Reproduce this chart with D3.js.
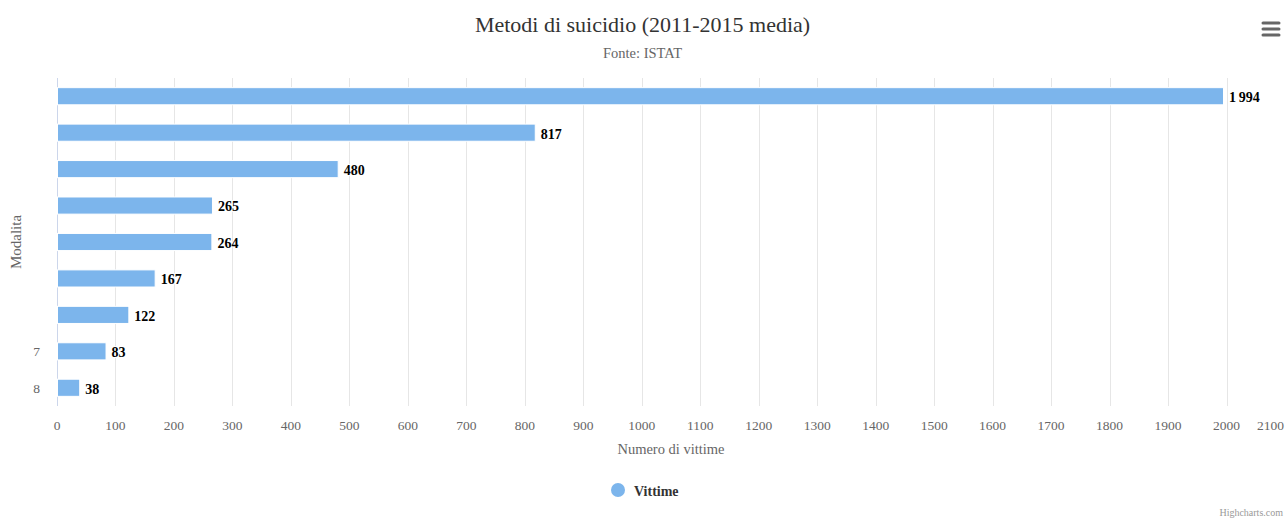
<!DOCTYPE html>
<html><head><meta charset="utf-8">
<script src="https://cdn.jsdelivr.net/npm/d3@7"></script>
<style>body{margin:0;background:#fff}svg{display:block}</style>
</head><body>
<script>
const categories = ["", "", "", "", "", "", "", "7", "8"];
const values = [1994, 817, 480, 265, 264, 167, 122, 83, 38];
const xTicks = [0,100,200,300,400,500,600,700,800,900,1000,1100,1200,1300,1400,1500,1600,1700,1800,1900,2000,2100];
const seriesName = "Vittime";
const chartTitle = "Metodi di suicidio (2011-2015 media)";
const chartSubtitle = "Fonte: ISTAT";
const xTitle = "Numero di vittime";
const yTitle = "Modalita";

(function () {
const W = 1285, H = 519;
const font = "'Liberation Serif','Times New Roman',serif";
const svg = d3.select("body").append("svg").attr("width", W).attr("height", H).style("font-family", font);

const pL = 57, pR = 1285, pT = 78, pB = 406;
const x = d3.scaleLinear().domain([0, 2100]).range([pL, pR]);
const y = d3.scaleBand().domain(d3.range(values.length)).range([pT, pB]).paddingInner(0.53).paddingOuter(0.265);

// gridlines
svg.append("g").selectAll("line").data(xTicks.filter(t => t > 0 && t < 2100)).join("line")
  .attr("x1", d => Math.round(x(d)) + 0.5).attr("x2", d => Math.round(x(d)) + 0.5)
  .attr("y1", pT).attr("y2", pB).attr("stroke", "#e6e6e6");

// axis line (left)
svg.append("line").attr("x1", pL + 0.5).attr("x2", pL + 0.5).attr("y1", pT).attr("y2", pB).attr("stroke", "#ccd6eb");

// bars
svg.append("g").selectAll("rect").data(values).join("rect")
  .attr("x", x(0) + 0.5).attr("y", (d, i) => y(i))
  .attr("width", d => x(d) - x(0)).attr("height", y.bandwidth())
  .attr("fill", "#7cb5ec").attr("stroke", "#fff").attr("stroke-width", 1);

// data labels
const fmt = v => { const s = String(v); return s.length > 3 ? s.slice(0, s.length - 3) + "\u2009" + s.slice(-3) : s; };
svg.append("g").selectAll("text").data(values).join("text")
  .attr("x", d => x(d) + 6).attr("y", (d, i) => y(i) + y.bandwidth() / 2 + 1)
  .attr("dy", "0.35em").attr("font-size", 14).attr("font-weight", "bold").attr("fill", "#000")
  .attr("stroke", "#fff").attr("stroke-width", 2).attr("paint-order", "stroke")
  .text(d => fmt(d));

// y category labels
svg.append("g").selectAll("text").data(categories).join("text")
  .attr("x", 40).attr("y", (d, i) => y(i) + y.bandwidth() / 2)
  .attr("dy", "0.35em").attr("text-anchor", "end").attr("font-size", 13.5).attr("fill", "#666")
  .text(d => d);

// x tick labels
svg.append("g").selectAll("text").data(xTicks).join("text")
  .attr("x", d => d === 2100 ? W - 1 : x(d)).attr("y", 430)
  .attr("text-anchor", d => d === 2100 ? "end" : "middle").attr("font-size", 13.5).attr("fill", "#666")
  .text(d => d);

// axis titles
svg.append("text").attr("x", (pL + pR) / 2).attr("y", 454).attr("text-anchor", "middle")
  .attr("font-size", 14.5).attr("fill", "#666").text(xTitle);
svg.append("text").attr("transform", `translate(21,${(pT + pB) / 2}) rotate(-90)`).attr("text-anchor", "middle")
  .attr("font-size", 15).attr("fill", "#666").text(yTitle);

// title & subtitle
svg.append("text").attr("x", W / 2).attr("y", 32).attr("text-anchor", "middle").attr("font-size", 22).attr("fill", "#333").text(chartTitle);
svg.append("text").attr("x", W / 2).attr("y", 58).attr("text-anchor", "middle").attr("font-size", 14.5).attr("fill", "#666").text(chartSubtitle);

// legend
const lg = svg.append("g");
lg.append("circle").attr("cx", 618).attr("cy", 490).attr("r", 7).attr("fill", "#7cb5ec");
lg.append("text").attr("x", 634).attr("y", 491).attr("dy", "0.35em").attr("font-size", 14).attr("font-weight", "bold").attr("fill", "#333").text(seriesName);

// menu icon
const mi = svg.append("g").attr("stroke", "#666").attr("stroke-width", 3).attr("stroke-linecap", "round");
[23, 29, 35].forEach(yy => mi.append("line").attr("x1", 1263).attr("x2", 1279).attr("y1", yy).attr("y2", yy));

// credits
svg.append("text").attr("x", W - 2).attr("y", 516).attr("text-anchor", "end").attr("font-size", 10).attr("fill", "#999").text("Highcharts.com");
})();
</script>
</body></html>
